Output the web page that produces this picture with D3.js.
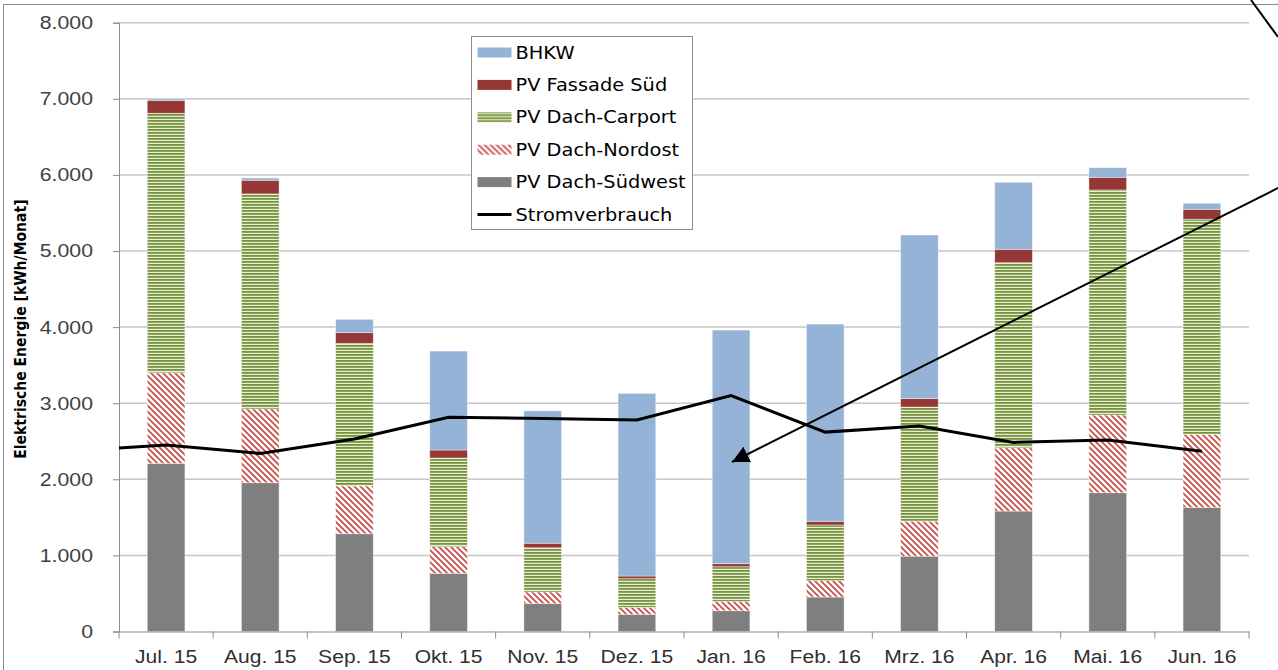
<!DOCTYPE html>
<html>
<head>
<meta charset="utf-8">
<script src="https://cdn.jsdelivr.net/npm/d3@7"></script>
<style>
	body { margin: 0; background: #fff; }
	svg { display: block; font-family: "DejaVu Sans", Verdana, sans-serif; }
</style>
</head>
<body>
<div id="chart"></div>
<script>
// Monate (Jul. 15 - Jun. 16)
var monate = ["Jul. 15", "Aug. 15", "Sep. 15", "Okt. 15", "Nov. 15", "Dez. 15",
	"Jan. 16", "Feb. 16", "Mrz. 16", "Apr. 16", "Mai. 16", "Jun. 16"];

// Erzeugung in kWh/Monat
var pvSuedwest = [2210, 1955, 1285, 765, 370, 226, 273, 453, 990, 1583, 1824, 1632];
var pvNordost = [1190, 970, 627, 350, 150, 92, 124, 215, 460, 832, 1021, 959];
var pvCarport = [3410, 2825, 1875, 1165, 580, 376, 454, 732, 1500, 2431, 2957, 2826];
var pvFassade = [170, 180, 140, 105, 60, 35, 40, 48, 110, 176, 166, 131];
var bhkw = [20, 30, 175, 1300, 1740, 2400, 3070, 2592, 2150, 881, 127, 79];

// Verbrauch in kWh/Monat
var stromverbrauch = [2450, 2340, 2530, 2815, 2800, 2780, 3100, 2620, 2700, 2485, 2515, 2370];
var verbrauchVormonat = 2410;

var yTicks = [0, 1000, 2000, 3000, 4000, 5000, 6000, 7000, 8000];

var serien = [
	{ key: "sw", name: "PV Dach-Südwest", values: pvSuedwest },
	{ key: "no", name: "PV Dach-Nordost", values: pvNordost },
	{ key: "cp", name: "PV Dach-Carport", values: pvCarport },
	{ key: "fs", name: "PV Fassade Süd", values: pvFassade },
	{ key: "bhkw", name: "BHKW", values: bhkw }
];

var layout = {
	w: 1278,
	h: 670,
	left: 119,
	right: 1249,
	top: 22.7,
	bottom: 631.5
}

var fills = {
	sw: "#7f7f7f",
	no: "url(#hatchNO)",
	cp: "url(#stripeCP)",
	fs: "#953735",
	bhkw: "#95b3d7"
}

var de = d3.formatLocale({ decimal: ",", thousands: ".", grouping: [3], currency: ["", " €"] });

// Text etwas breiter ziehen (Original ist horizontal gestreckt)
function strecken(sel, faktor){
	sel.each(function(){
		var len = this.getComputedTextLength();
		d3.select(this).attr("textLength", len * faktor).attr("lengthAdjust", "spacingAndGlyphs");
	});
}

var svg = d3.select("#chart")
	.append("svg")
	.attr("width", layout.w)
	.attr("height", layout.h);

var defs = svg.append("defs");

// Schraffur Nordost
var hatch = defs.append("pattern")
	.attr("id", "hatchNO")
	.attr("patternUnits", "userSpaceOnUse")
	.attr("width", 6)
	.attr("height", 6);
hatch.append("rect").attr("width", 6).attr("height", 6).attr("fill", "#fff");
hatch.append("path")
	.attr("d", "M-1,-1L7,7M-1,5L1,7M5,-1L7,1")
	.attr("stroke", "#c9504c")
	.attr("stroke-width", 1.8);

// Streifen Carport
var stripe = defs.append("pattern")
	.attr("id", "stripeCP")
	.attr("patternUnits", "userSpaceOnUse")
	.attr("width", 6)
	.attr("height", 3);
stripe.append("rect").attr("width", 6).attr("height", 3).attr("fill", "#e6edd6");
stripe.append("rect").attr("width", 6).attr("height", 1.8).attr("fill", "#77933c");

defs.append("marker")
	.attr("id", "pfeil")
	.attr("viewBox", "0 0 10 10")
	.attr("refX", 10)
	.attr("refY", 5)
	.attr("markerUnits", "userSpaceOnUse")
	.attr("markerWidth", 17)
	.attr("markerHeight", 17)
	.attr("orient", "auto")
	.append("path")
	.attr("d", "M0,0L10,5L0,10Z")
	.attr("fill", "#000");

// Rahmen
svg.append("rect")
	.attr("x", 3.5)
	.attr("y", 4.5)
	.attr("width", layout.w + 10)
	.attr("height", layout.h + 10)
	.attr("fill", "none")
	.attr("stroke", "#8c8c8c");

var xScale = d3.scaleBand()
	.domain(monate)
	.range([layout.left, layout.right])
	.paddingInner(0.6)
	.paddingOuter(0.3);

var yScale = d3.scaleLinear()
	.domain([0, 8000])
	.range([layout.bottom, layout.top]);

// Gitternetz
svg.append("g")
	.attr("class", "grid")
	.selectAll("line")
	.data(yTicks.filter(function(d){ return d > 0; }))
	.enter().append("line")
	.attr("x1", layout.left)
	.attr("x2", layout.right)
	.attr("y1", function(d){ return yScale(d); })
	.attr("y2", function(d){ return yScale(d); })
	.style("stroke", "#c6c6c6")
	.style("stroke-width", 1.5);

var tabelle = monate.map(function(m, i){
	var row = { monat: m };
	serien.forEach(function(s){ row[s.key] = s.values[i]; });
	return row;
});

var stack = d3.stack().keys(serien.map(function(s){ return s.key; }));
var stacked = stack(tabelle);

svg.append("g")
	.attr("class", "bars")
	.selectAll("g")
	.data(stacked)
	.enter().append("g")
	.attr("fill", function(d){ return fills[d.key]; })
	.selectAll("rect")
	.data(function(d){ return d; })
	.enter().append("rect")
	.attr("x", function(d){ return xScale(d.data.monat); })
	.attr("width", xScale.bandwidth())
	.attr("y", function(d){ return yScale(d[1]); })
	.attr("height", function(d){ return yScale(d[0]) - yScale(d[1]); })
	.style("stroke", "rgba(255,255,255,0.5)")
	.style("stroke-width", 0.8);

// y-Achse
var yAxis = svg.append("g")
	.attr("class", "y-axis")
	.attr("transform", "translate(" + layout.left + ",0)")
	.call(d3.axisLeft(yScale)
		.tickValues(yTicks)
		.tickSize(6)
		.tickPadding(20)
		.tickFormat(de.format(",d")));
yAxis.select(".domain").attr("stroke", "#8c8c8c");
yAxis.selectAll(".tick line").attr("stroke", "#8c8c8c");
yAxis.selectAll("text")
	.attr("fill", "#404040")
	.style("font-size", "18.5px")
	.call(strecken, 1.15);

// x-Achse
var xAxis = svg.append("g")
	.attr("class", "x-axis")
	.attr("transform", "translate(0," + layout.bottom + ")")
	.call(d3.axisBottom(xScale).tickSize(0).tickPadding(19));
xAxis.select(".domain").attr("stroke", "#8c8c8c");
xAxis.selectAll("text")
	.attr("fill", "#303030")
	.style("font-size", "18px")
	.call(strecken, 1.17);

var grenzen = monate.map(function(m){
	return xScale(m) - (xScale.step() - xScale.bandwidth()) / 2;
}).concat([layout.right]);

xAxis.selectAll(".grenze")
	.data(grenzen)
	.enter().append("line")
	.attr("class", "grenze")
	.attr("x1", function(d){ return d; })
	.attr("x2", function(d){ return d; })
	.attr("y1", 0)
	.attr("y2", 7)
	.attr("stroke", "#8c8c8c");

// Stromverbrauch
var linie = d3.line()
	.x(function(d){ return d.x; })
	.y(function(d){ return yScale(d.v); });

var linienPunkte = [{ x: layout.left, v: verbrauchVormonat }].concat(stromverbrauch.map(function(v, i){
	return { x: xScale(monate[i]) + xScale.bandwidth() / 2, v: v };
}));

svg.append("path")
	.datum(linienPunkte)
	.attr("d", linie)
	.style("fill", "none")
	.style("stroke", "#000")
	.style("stroke-width", 3);

// Achsentitel
svg.append("text")
	.attr("transform", "translate(26," + ((layout.top + layout.bottom) / 2 + 2) + ") rotate(-90)")
	.attr("text-anchor", "middle")
	.style("font-family", "'DejaVu Sans Condensed', 'DejaVu Sans', sans-serif")
	.style("font-size", "16px")
	.style("font-weight", "600")
	.attr("fill", "#000")
	.text("Elektrische Energie [kWh/Monat]")
	.call(strecken, 0.97);

// Legende
var legende = svg.append("g")
	.attr("class", "legend")
	.attr("transform", "translate(471.5,36.5)");

legende.append("rect")
	.attr("width", 221)
	.attr("height", 193)
	.attr("fill", "#fff")
	.attr("stroke", "#8c8c8c");

var legendeEintraege = serien.slice().reverse().concat([{ key: "linie", name: "Stromverbrauch" }]);

var eintrag = legende.selectAll(".eintrag")
	.data(legendeEintraege)
	.enter().append("g")
	.attr("class", "eintrag")
	.attr("transform", function(d, i){ return "translate(0," + (16 + i * 32.4) + ")"; });

eintrag.filter(function(d){ return d.key != "linie"; })
	.append("rect")
	.attr("x", 6)
	.attr("y", -5)
	.attr("width", 34)
	.attr("height", 10)
	.attr("fill", function(d){ return fills[d.key]; });

eintrag.filter(function(d){ return d.key == "linie"; })
	.append("line")
	.attr("x1", 6)
	.attr("x2", 40)
	.attr("stroke", "#000")
	.attr("stroke-width", 3);

eintrag.append("text")
	.attr("x", 44)
	.attr("dy", "0.36em")
	.style("font-size", "17px")
	.attr("fill", "#000")
	.text(function(d){ return d.name; })
	.call(strecken, 1.14);

// Anmerkungspfeile
svg.append("line")
	.attr("x1", 1251)
	.attr("y1", 0)
	.attr("x2", 1278)
	.attr("y2", 37)
	.attr("stroke", "#000")
	.attr("stroke-width", 2);

svg.append("line")
	.attr("x1", 1278)
	.attr("y1", 188)
	.attr("x2", 732)
	.attr("y2", 462)
	.attr("stroke", "#000")
	.attr("stroke-width", 2)
	.attr("marker-end", "url(#pfeil)");
</script>
</body>
</html>
